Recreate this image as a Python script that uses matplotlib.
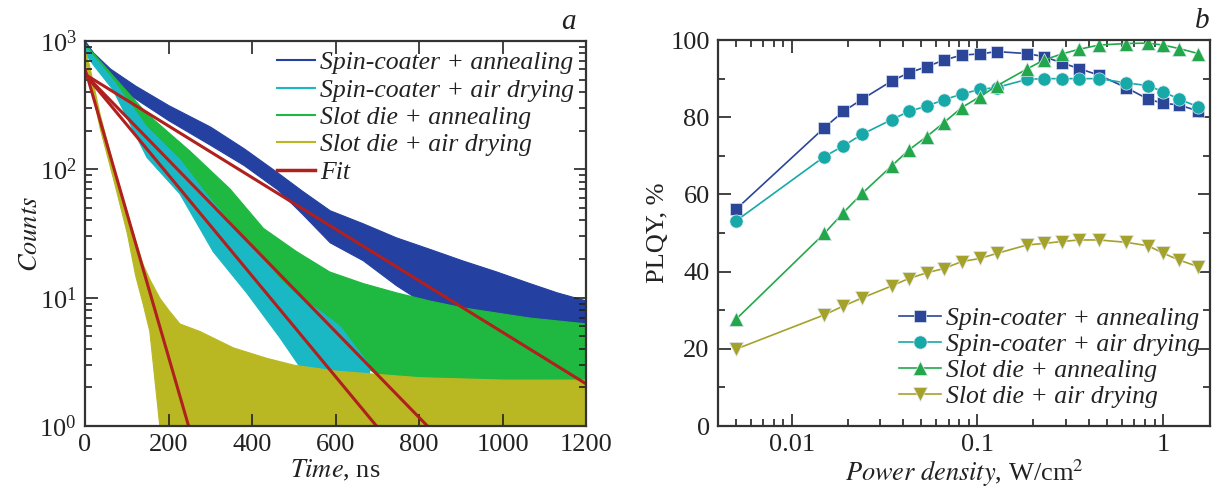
import matplotlib
matplotlib.use('Agg')
import matplotlib.pyplot as plt
from matplotlib.lines import Line2D
from matplotlib.ticker import LogLocator, NullFormatter, MultipleLocator, FixedLocator, FixedFormatter

plt.rcParams['font.family'] = ['Liberation Serif', 'DejaVu Serif']
plt.rcParams['mathtext.fontset'] = 'stix'
plt.rcParams['font.size'] = 19
plt.rcParams['text.color'] = '#222222'
plt.rcParams['axes.labelcolor'] = '#222222'
plt.rcParams['xtick.color'] = '#222222'
plt.rcParams['ytick.color'] = '#222222'

labels = ['Spin-coater + annealing', 'Spin-coater + air drying',
          'Slot die + annealing', 'Slot die + air drying']

blue_t = [0, 20, 60, 120, 200, 300, 380, 460, 520, 586, 665, 745, 825, 904, 985, 1064, 1130, 1200]
blue_hi = [1000, 810, 610, 450, 316, 215, 146, 95, 68, 48, 38, 29.5, 24, 19.5, 16, 13, 11, 9.5]
blue_lo = [850, 700, 495, 357, 241, 155, 108, 70, 45, 27, 19.6, 12.5, 8.5, 6.5, 5, 4.2, 4, 3.9]

cyan_t = [0, 20, 66, 147, 226, 306, 386, 466, 514, 560, 610, 680]
cyan_hi = [900, 760, 500, 215, 120, 55, 28, 14, 10, 8, 6, 3]
cyan_lo = [800, 650, 420, 125, 65, 23, 11, 4.9, 2.9, 2, 1, 1]

green_t = [0, 20, 66, 147, 250, 346, 426, 506, 585, 665, 745, 825, 904, 1064, 1200]
green_hi = [950, 800, 540, 274, 140, 71, 35, 23, 16, 13, 11, 9.5, 8.4, 7, 6.3]
green_lo = [800, 690, 453, 200, 90, 40, 20, 10, 5, 3, 2, 1, 1, 1, 1]

yel_t = [0, 10, 35, 70, 100, 120, 138, 154, 178, 200, 226, 274, 354, 434, 500, 600, 800, 1000, 1200]
yel_hi = [850, 640, 270, 100, 46, 28, 18.3, 14, 10, 8, 6.3, 5.5, 4.1, 3.4, 3, 2.7, 2.4, 2.3, 2.3]
yel_lo = [700, 520, 210, 78, 32, 15, 9, 5.5, 1, 1, 1, 1, 1, 1, 1, 1, 1, 1, 1]

# mono-exponential fits: straight lines on the log axis (start, end)
fit_blue_t, fit_blue_y = [0, 1200], [550, 2.13]
fit_green_t, fit_green_y = [0, 820], [550, 1.0]
fit_cyan_t, fit_cyan_y = [0, 698], [550, 1.0]
fit_yel_t, fit_yel_y = [0, 248], [610, 1.0]

# ---- panel b: PLQY vs power density ----
power = [0.005, 0.015, 0.019, 0.024, 0.0346, 0.0427, 0.0534, 0.066, 0.0824, 0.103, 0.127,
         0.185, 0.228, 0.285, 0.353, 0.452, 0.631, 0.83, 1.0, 1.22, 1.545]
plqy_spin_ann = [56.1, 77.3, 81.5, 84.7, 89.4, 91.5, 93.1, 94.8, 96.1, 96.4, 97.0,
                 96.5, 95.7, 94.1, 92.6, 90.9, 87.7, 84.7, 83.6, 83.2, 81.6]
plqy_spin_air = [53.1, 69.8, 72.6, 75.6, 79.4, 81.5, 82.9, 84.5, 86.0, 87.2, 87.7,
                 89.8, 90.0, 90.0, 90.0, 90.0, 88.9, 88.2, 86.6, 84.7, 82.7]
plqy_slot_ann = [27.6, 49.9, 55.3, 60.3, 67.4, 71.5, 75.0, 78.6, 82.5, 85.3, 88.1,
                 92.5, 94.8, 96.4, 97.6, 98.7, 99.1, 99.2, 98.7, 97.8, 96.5]
plqy_slot_air = [19.9, 28.8, 31.1, 33.2, 36.3, 38.2, 39.7, 40.8, 42.6, 43.4, 44.7,
                 46.9, 47.3, 47.8, 48.2, 48.2, 47.6, 46.7, 44.8, 43.0, 41.3]

col_a = ['#2440a0', '#1ab8c4', '#1fb840', '#b9b822']
col_fit = '#b0201e'
col_b = ['#2b4598', '#16a9a8', '#22a84a', '#a5a22b']

fig = plt.figure(figsize=(12.18, 4.9), dpi=100)
ax1 = fig.add_axes([0.0698, 0.1306, 0.4114, 0.7857])
ax2 = fig.add_axes([0.5895, 0.1306, 0.4039, 0.7877])

# panel a
decays = [(blue_t, blue_hi, blue_lo, col_a[0]),
          (green_t, green_hi, green_lo, col_a[2]),
          (cyan_t, cyan_hi, cyan_lo, col_a[1]),
          (yel_t, yel_hi, yel_lo, col_a[3])]
for t, hi, lo, c in decays:
    ax1.fill_between(t, lo, hi, color=c, lw=0.8, edgecolor=c)

for t, y in [(fit_blue_t, fit_blue_y), (fit_green_t, fit_green_y),
             (fit_cyan_t, fit_cyan_y), (fit_yel_t, fit_yel_y)]:
    ax1.plot(t, y, color=col_fit, lw=2.2, solid_capstyle='butt')

ax1.set_yscale('log')
ax1.set_xlim(0, 1200)
ax1.set_ylim(1, 1000)
ax1.xaxis.set_major_locator(MultipleLocator(200))
ax1.yaxis.set_major_locator(LogLocator(base=10))
ax1.yaxis.set_minor_locator(LogLocator(base=10, subs=range(2, 10)))
ax1.yaxis.set_minor_formatter(NullFormatter())
ax1.tick_params(which='both', direction='in', top=True, right=True, width=1.2)
ax1.tick_params(which='major', length=9, pad=6)
ax1.tick_params(which='minor', length=5)
ax1.set_xlabel(r'$\mathit{Time}$, ns', labelpad=1)
ax1.set_ylabel(r'$\mathit{Counts}$')
ax1.yaxis.set_label_coords(-0.085, 0.5)
for s in ax1.spines.values():
    s.set_linewidth(1.6)
    s.set_color('#333333')

handles = [Line2D([], [], color=c, lw=1.5) for c in col_a] + [Line2D([], [], color=col_fit, lw=2.5)]
ax1.legend(handles, labels + ['Fit'], loc='upper right', bbox_to_anchor=(0.997, 1.0),
           frameon=False, handlelength=1.5, handletextpad=0.2, labelspacing=0.17,
           borderaxespad=0, prop={'style': 'italic', 'size': 18.5})
ax1.text(0.965, 1.03, 'a', transform=ax1.transAxes, style='italic', fontsize=21, ha='center')

# panel b
series = [(plqy_spin_ann, 's', 8.5), (plqy_spin_air, 'o', 9.5),
          (plqy_slot_ann, '^', 10.5), (plqy_slot_air, 'v', 10.5)]
for (y, m, ms), c, lab in zip(series, col_b, labels):
    ax2.plot(power, y, color=c, marker=m, ms=ms, lw=1.2, mec='#dfe6ef', mew=0.5, label=lab)

ax2.set_xscale('log')
ax2.set_xlim(0.00401, 1.79)
ax2.set_ylim(0, 100)
ax2.xaxis.set_major_locator(FixedLocator([0.01, 0.1, 1]))
ax2.xaxis.set_major_formatter(FixedFormatter(['0.01', '0.1', '1']))
ax2.xaxis.set_minor_locator(LogLocator(base=10, subs=range(2, 10)))
ax2.xaxis.set_minor_formatter(NullFormatter())
ax2.yaxis.set_major_locator(MultipleLocator(20))
ax2.yaxis.set_minor_locator(MultipleLocator(10))
ax2.tick_params(which='both', direction='in', top=True, right=True, width=1.2)
ax2.tick_params(which='major', length=9, pad=6)
ax2.tick_params(which='minor', length=5)
ax2.set_xlabel(r'$\mathit{Power\ density}$, W/cm$^2$', labelpad=1)
ax2.set_ylabel('PLQY, %')
ax2.yaxis.set_label_coords(-0.10, 0.5)
for s in ax2.spines.values():
    s.set_linewidth(1.6)
    s.set_color('#333333')

ax2.legend(loc='lower right', bbox_to_anchor=(1.0, 0.02), frameon=False,
           handlelength=1.6, handletextpad=0.2, labelspacing=0.12, borderaxespad=0,
           prop={'style': 'italic', 'size': 18.5})
ax2.text(0.985, 1.03, 'b', transform=ax2.transAxes, style='italic', fontsize=21, ha='center')

fig.savefig('out.png', dpi=100)
